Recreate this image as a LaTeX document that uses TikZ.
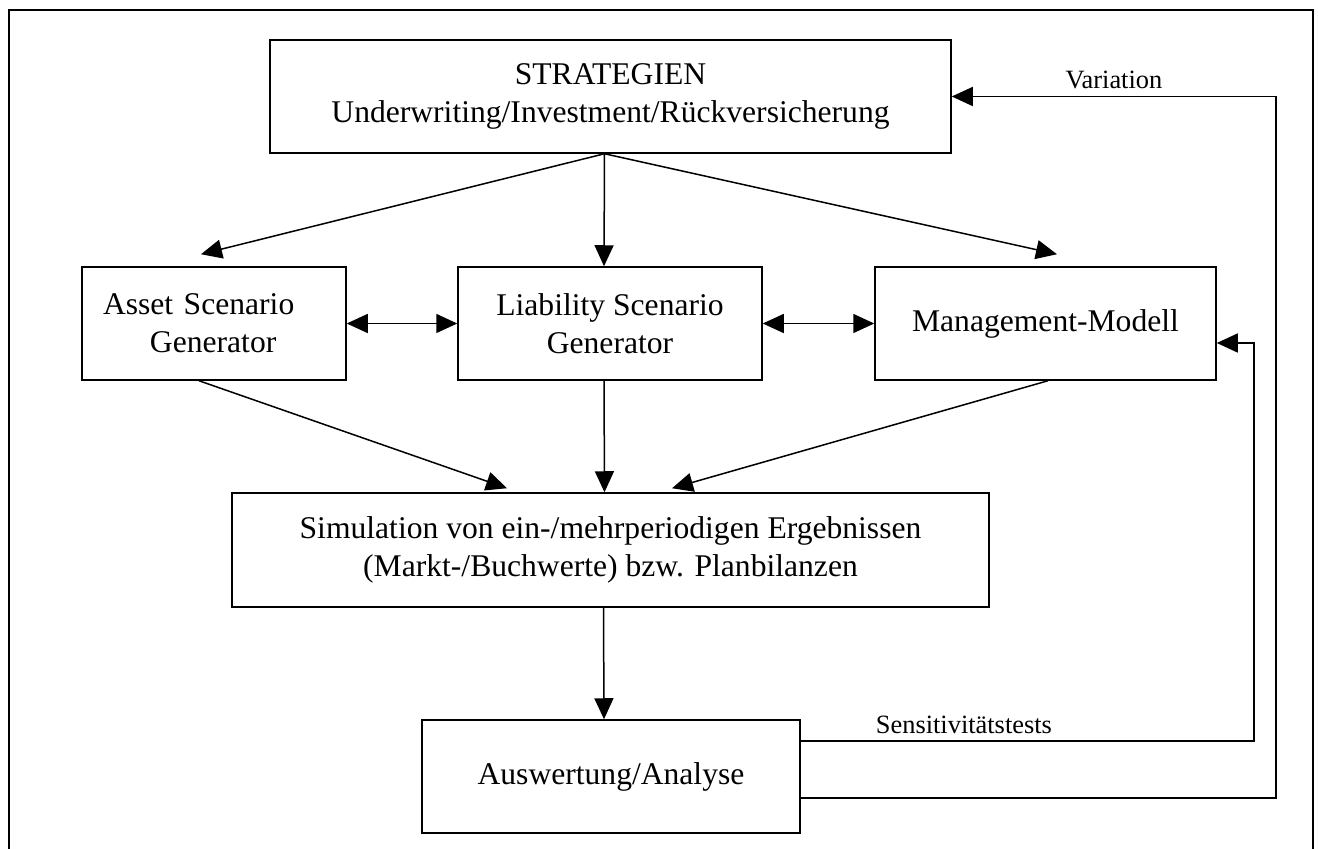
\documentclass[tikz,border=0pt]{standalone}
\usepackage{fontspec}
\setmainfont{Liberation Serif}
\usetikzlibrary{arrows.meta,positioning}
\begin{document}
\begin{tikzpicture}[x=0.5pt,y=-0.5pt,
 box/.style={draw,line width=0.75pt,minimum height=56.5pt,inner sep=0pt,align=center,font=\fontsize{15.8}{19}\selectfont},
 pfeil/.style={line width=0.75pt,-{Triangle[length=10.5pt,width=9.5pt]}},
 dpfeil/.style={line width=0.75pt,{Triangle[length=10.5pt,width=9.5pt]}-{Triangle[length=10.5pt,width=9.5pt]}},
 lbl/.style={font=\fontsize{13.2}{15}\selectfont}]
 \useasboundingbox (0,0) rectangle (1318,849);
 \draw[line width=0.85pt] (9,10) rectangle (1313,880);
 \node[box,minimum width=340.5pt] (strat) at (610.5,96.5) {STRATEGIEN\\Underwriting/Investment/Rückversicherung};
 \node[box,minimum width=132pt,text width=111pt,inner xsep=10.5pt,align=left] (asset) at (214,323.5) {Asset Scenario\\\hspace*{23.5pt}Generator};
 \node[box,minimum width=152pt] (liab) at (610,323.5) {Liability Scenario\\Generator};
 \node[box,minimum width=170.5pt] (mgmt) at (1045.5,323.5) {Management-Modell};
 \node[box,minimum width=378.5pt,minimum height=57pt] (sim) at (610.5,550) {Simulation von ein-/mehrperiodigen Ergebnissen\\(Markt-/Buchwerte) bzw. Planbilanzen};
 \node[box,minimum width=189pt] (aus) at (611,776.5) {Auswertung/Analyse};
 \draw[pfeil] ([xshift=-3pt]strat.south) -- ([xshift=-6.5pt,yshift=6pt]asset.north);
 \draw[pfeil] ([xshift=-3pt]strat.south) -- ([xshift=-3pt]liab.north);
 \draw[pfeil] ([xshift=-3pt]strat.south) -- ([xshift=5.75pt,yshift=6pt]mgmt.north);
 \draw[dpfeil] (asset) -- (liab);
 \draw[dpfeil] (liab) -- (mgmt);
 \draw[pfeil] ([xshift=-7.5pt]asset.south) -- ([xshift=-51.75pt,yshift=2pt]sim.north);
 \draw[pfeil] ([xshift=-3pt]liab.south) -- ([xshift=-3pt]sim.north);
 \draw[pfeil] ([xshift=1.25pt]mgmt.south) -- ([xshift=30.75pt,yshift=2pt]sim.north);
 \draw[pfeil] ([xshift=-3.5pt]sim.south) -- ([xshift=-3.5pt]aus.north);
 \draw[pfeil] ([yshift=17.75pt]aus.east) -- node[lbl,above,pos=0.36]{Sensitivitätstests} (1254,741) -- (1254,343) -- ([yshift=-9.75pt]mgmt.east);
 \draw[pfeil] ([yshift=-10.75pt]aus.east) -- (1276,798) -- (1276,96.5) -- node[lbl,above]{Variation} (strat.east);
\end{tikzpicture}
\end{document}
